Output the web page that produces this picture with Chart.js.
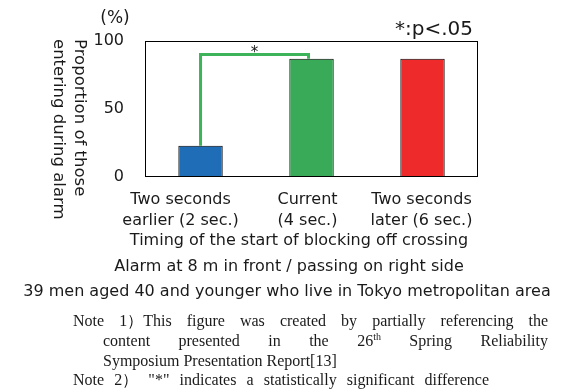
<!DOCTYPE html>
<html>
<head>
<meta charset="utf-8">
<script src="https://cdn.jsdelivr.net/npm/chart.js@4/dist/chart.umd.min.js"></script>
<style>
  html, body { margin: 0; padding: 0; background: #fff; }
  #wrap { width: 568px; height: 392px; }
</style>
</head>
<body>
<div id="wrap"><canvas id="c" width="568" height="392"></canvas></div>
<script>
// Categories (two-line labels) and measured proportions (%)
const categories = [
  ['Two seconds', 'earlier (2 sec.)'],
  ['Current', '(4 sec.)'],
  ['Two seconds', 'later (6 sec.)']
];
const proportions = [23, 87, 87];
const barColors = ['#1f6db6', '#38aa58', '#ee2a2a'];
const yTickValues = [0, 50, 100];

// Texts
const unitLabel = '(%)';
const yTitleLines = ['Proportion of those', 'entering during alarm'];
const xTitle = 'Timing of the start of blocking off crossing';
const conditionLines = [
  'Alarm at 8 m in front / passing on right side',
  '39 men aged 40 and younger who live in Tokyo metropolitan area'
];
const sigLegend = '*:p<.05';
const sigPair = [0, 1];
const sigLevel = 90;
const sigMark = '*';

const SANS = '"DejaVu Sans", sans-serif';
const SERIF = '"Liberation Serif", "Times New Roman", serif';
const INK = '#1a1a1a';

// Draw a line of words spread evenly between left and right edges
function drawJustified(ctx, words, left, right, y) {
  const widths = words.map(w => measureWord(ctx, w));
  const total = widths.reduce((s, v) => s + v, 0);
  const gap = words.length > 1 ? (right - left - total) / (words.length - 1) : 0;
  let x = left;
  words.forEach((w, i) => { drawWord(ctx, w, x, y); x += widths[i] + gap; });
}
function measureWord(ctx, w) {
  if (typeof w === 'string') return ctx.measureText(w).width;
  const base = ctx.measureText(w.base).width;
  const f = ctx.font;
  ctx.font = f.replace(/\d+(\.\d+)?px/, '10px');
  const sup = ctx.measureText(w.sup).width;
  ctx.font = f;
  return base + sup;
}
function drawWord(ctx, w, x, y) {
  if (typeof w === 'string') { ctx.fillText(w, x, y); return; }
  ctx.fillText(w.base, x, y);
  const bw = ctx.measureText(w.base).width;
  const f = ctx.font;
  ctx.font = f.replace(/\d+(\.\d+)?px/, '10px');
  ctx.fillText(w.sup, x + bw, y - 5);
  ctx.font = f;
}

const notes = {
  id: 'notes',
  afterDraw(chart) {
    const { ctx, chartArea: a, scales: { x, y } } = chart;
    ctx.save();

    // plot frame
    ctx.strokeStyle = '#000';
    ctx.lineWidth = 1;
    ctx.strokeRect(Math.round(a.left) + 0.5, Math.round(a.top) + 0.5,
                   Math.round(a.right - a.left) - 1, Math.round(a.bottom - a.top) - 1);

    // significance bracket between the first two bars
    const xa = x.getPixelForValue(sigPair[0]);
    const xb = x.getPixelForValue(sigPair[1]) - 3;
    const yl = y.getPixelForValue(sigLevel);
    ctx.strokeStyle = '#3db35a';
    ctx.lineWidth = 3;
    ctx.lineJoin = 'miter';
    ctx.beginPath();
    ctx.moveTo(xa, y.getPixelForValue(proportions[sigPair[0]]));
    ctx.lineTo(xa, yl);
    ctx.lineTo(xb, yl);
    ctx.lineTo(xb, y.getPixelForValue(proportions[sigPair[1]]));
    ctx.stroke();

    ctx.fillStyle = INK;
    ctx.textBaseline = 'alphabetic';
    ctx.textAlign = 'center';
    ctx.font = '15px ' + SANS;
    ctx.fillText(sigMark, (xa + xb) / 2, yl + 2);

    // unit and significance legend
    ctx.textBaseline = 'middle';
    ctx.font = '17px ' + SANS;
    ctx.fillText(unitLabel, 115, 19);
    ctx.textAlign = 'right';
    ctx.font = '20px ' + SANS;
    ctx.fillText(sigLegend, 473, 30);

    // rotated y-axis title (reads top to bottom)
    ctx.font = '16.5px ' + SANS;
    ctx.textAlign = 'left';
    yTitleLines.forEach((line, i) => {
      ctx.save();
      ctx.translate(79 - i * 21, 39);
      ctx.rotate(Math.PI / 2);
      ctx.fillText(line, 0, 0);
      ctx.restore();
    });

    // category labels
    const labelNudge = [-20, -4, -1];
    ctx.textAlign = 'center';
    ctx.font = '16px ' + SANS;
    categories.forEach((lines, i) => {
      const cx = x.getPixelForValue(i) + labelNudge[i];
      lines.forEach((t, j) => ctx.fillText(t, cx, 200 + j * 21));
    });
    ctx.fillText(xTitle, 299, 241);

    ctx.fillText(conditionLines[0], 289, 267);
    ctx.fillText(conditionLines[1], 287, 292);

    // notes
    ctx.font = '16px ' + SERIF;
    ctx.textAlign = 'left';
    drawJustified(ctx, ['Note', '1）This', 'figure', 'was', 'created', 'by', 'partially', 'referencing', 'the'], 73, 548, 322);
    drawJustified(ctx, ['content', 'presented', 'in', 'the', { base: '26', sup: 'th' }, 'Spring', 'Reliability'], 103, 548, 342);
    ctx.fillText('Symposium Presentation Report[13]', 103, 362);
    drawJustified(ctx, ['Note', '2）', '"*"', 'indicates', 'a', 'statistically', 'significant', 'difference'], 73, 489, 381);

    ctx.restore();
  }
};

new Chart(document.getElementById('c'), {
  type: 'bar',
  data: {
    labels: categories,
    datasets: [{
      data: proportions,
      backgroundColor: barColors,
      borderColor: '#000',
      borderWidth: 1,
      borderSkipped: false,
      barPercentage: 0.4,
      categoryPercentage: 1.0
    }]
  },
  options: {
    responsive: false,
    animation: false,
    devicePixelRatio: 1,
    layout: { padding: { left: 72.5, right: 90, top: 41, bottom: 215 } },
    plugins: { legend: { display: false }, tooltip: { enabled: false } },
    scales: {
      x: {
        ticks: { display: false },
        grid: { display: false, drawTicks: false },
        border: { display: false }
      },
      y: {
        min: 0,
        max: 100,
        afterBuildTicks(scale) { scale.ticks = yTickValues.map(v => ({ value: v })); },
        ticks: { color: INK, font: { family: SANS, size: 16 }, padding: 21 },
        grid: { display: false, drawTicks: false },
        border: { display: false }
      }
    }
  },
  plugins: [notes]
});
</script>
</body>
</html>
